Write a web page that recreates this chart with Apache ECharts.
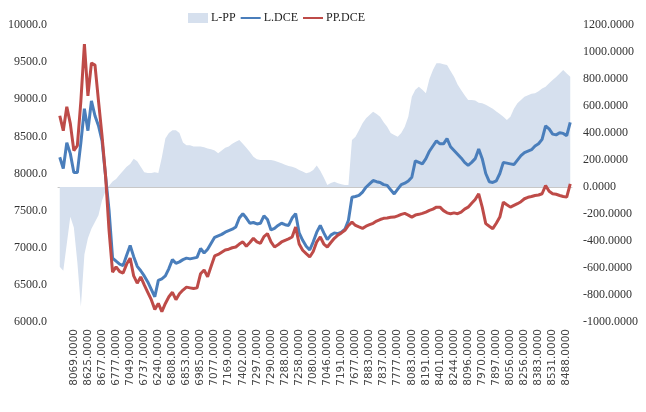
<!DOCTYPE html>
<html>
<head>
<meta charset="utf-8">
<script src="https://cdn.jsdelivr.net/npm/echarts@6/dist/echarts.min.js"></script>
<style>
  html, body { margin: 0; padding: 0; background: #fff; }
  #chart { width: 646px; height: 412px; }
</style>
</head>
<body>
<div id="chart"></div>
<script>
// x-axis labels, one every 4 categories
var tickLabels = [
    '8069.0000', '8625.0000', '8677.0000', '6777.0000', '7049.0000', '6737.0000',
    '6240.0000', '6808.0000', '6853.0000', '6985.0000', '7077.0000', '7169.0000',
    '7402.0000', '7297.0000', '7290.0000', '7288.0000', '7258.0000', '7080.0000',
    '7046.0000', '7191.0000', '7677.0000', '7883.0000', '7837.0000', '7777.0000',
    '8083.0000', '8191.0000', '8401.0000', '8244.0000', '8096.0000', '7970.0000',
    '7897.0000', '8056.0000', '8256.0000', '8383.0000', '8531.0000', '8488.0000'
];

var lDce = [
    8218, 8067, 8415, 8268, 8013, 8013, 8415, 8872, 8577, 8979,
    8778, 8644, 8442, 7973, 7503, 6859, 6819, 6780, 6760, 6900,
    7030, 6880, 6750, 6690, 6620, 6540, 6440, 6340, 6560, 6580,
    6620, 6720, 6840, 6790, 6810, 6840, 6860, 6850, 6860, 6870,
    6990, 6930, 6980, 7060, 7140, 7160, 7180, 7210, 7230, 7250,
    7280, 7400, 7460, 7400, 7330, 7340, 7320, 7330, 7430, 7380,
    7240, 7260, 7300, 7330, 7310, 7300, 7400, 7460, 7200, 7100,
    7020, 6970, 7080, 7210, 7300, 7200, 7110, 7170, 7200, 7190,
    7210, 7250, 7370, 7680, 7690, 7705, 7750, 7815, 7860, 7905,
    7890, 7880, 7850, 7840, 7780, 7725, 7790, 7850, 7870, 7900,
    7950, 8170, 8150, 8130, 8200, 8300, 8370, 8440, 8400, 8400,
    8470, 8360, 8310, 8260, 8210, 8150, 8110, 8150, 8200, 8330,
    8200, 8000, 7890, 7880, 7900, 8000, 8150, 8140, 8130, 8120,
    8180, 8240, 8280, 8300, 8320, 8370, 8400, 8460, 8640, 8600,
    8530, 8520, 8550, 8540, 8510, 8690
];

var ppDce = [
    8778, 8577, 8899, 8671, 8308, 8375, 8979, 9744, 9046, 9489,
    9462, 8979, 8510, 7973, 7235, 6671, 6742, 6680, 6660, 6780,
    6860, 6620, 6523, 6608, 6500, 6400, 6300, 6170, 6250, 6140,
    6250, 6340, 6400, 6300, 6380, 6430, 6470, 6460, 6450, 6460,
    6650, 6700, 6610, 6750, 6890, 6910, 6940, 6970, 6980, 7000,
    7010, 7050, 7080, 7020, 7070, 7127, 7080, 7060, 7150, 7190,
    7080, 7010, 7040, 7078, 7100, 7120, 7145, 7279, 7050, 6966,
    6920, 6876, 6950, 7080, 7145, 7050, 7010, 7070, 7127, 7170,
    7200, 7235, 7300, 7346, 7300, 7280, 7261, 7290, 7310, 7329,
    7360, 7380, 7396, 7400, 7410, 7413, 7430, 7450, 7463, 7440,
    7413, 7440, 7450, 7463, 7480, 7503, 7520, 7547, 7547, 7500,
    7470, 7459, 7470, 7459, 7480, 7520, 7547, 7600, 7650, 7727,
    7547, 7325, 7290, 7257, 7330, 7413, 7614, 7580, 7547, 7570,
    7593, 7620, 7660, 7680, 7690, 7704, 7710, 7727, 7838, 7760,
    7727, 7720, 7704, 7690, 7682, 7861
];

var lpp = [
    -590, -620, -420, -220, -300, -560, -887, -500, -380, -310,
    -260, -210, -100, -30, 10, 40, 60, 90, 120, 150,
    170, 210, 190, 150, 110, 104, 104, 110, 104, 220,
    360, 400, 420, 420, 400, 330, 310, 310, 300, 300,
    300, 295, 285, 280, 270, 250, 270, 290, 300, 320,
    336, 348, 320, 290, 260, 225, 205, 200, 200, 200,
    200, 195, 185, 176, 165, 155, 150, 140, 126, 115,
    102, 110, 126, 160, 120, 70, 15, 30, 39, 27,
    20, 15, 15, 348, 373, 420, 472, 510, 534, 558,
    540, 521, 480, 447, 400, 385, 373, 400, 447, 520,
    669, 720, 743, 720, 694, 800, 867, 917, 917, 910,
    904, 860, 817, 760, 719, 680, 645, 645, 640, 625,
    620, 610, 595, 580, 560, 540, 520, 496, 521, 580,
    620, 645, 669, 680, 690, 694, 710, 730, 743, 768,
    793, 815, 840, 867, 840, 817
];

var categories = lDce.map(function (v, i) { return String(i); });

var chart = echarts.init(document.getElementById('chart'), null, { renderer: 'canvas' });
var serif = 'Liberation Serif';

var option = {
    animation: false,
    backgroundColor: '#fff',
    legend: {
        left: 183,
        top: 7,
        itemWidth: 20,
        itemHeight: 10,
        itemGap: 4,
        textStyle: { fontFamily: serif, fontSize: 12, color: '#222', padding: [0, 0, 0, -2] },
        data: [
            { name: 'L-PP', icon: 'rect', itemStyle: { color: '#d6e0ee' } },
            // hide the marker dot, keep only the line
            { name: 'L.DCE', itemStyle: { opacity: 0 } },
            { name: 'PP.DCE', itemStyle: { opacity: 0 } }
        ]
    },
    grid: { left: 58, right: 74, top: 25, bottom: 90 },
    xAxis: {
        type: 'category',
        data: categories,
        boundaryGap: true,
        axisLine: { lineStyle: { color: '#c8c8c8' } },
        axisTick: { interval: 0, length: 4, lineStyle: { color: '#c8c8c8' } },
        axisLabel: {
            rotate: 90,
            margin: 7,
            interval: function (i) { return i > 0 && i % 4 === 0; },
            formatter: function (v, i) { return tickLabels[i / 4 - 1] || ''; },
            fontFamily: 'DejaVu Sans',
            fontSize: 10.5,
            color: '#444'
        }
    },
    yAxis: [{
        type: 'value',
        min: 6000,
        max: 10000,
        interval: 500,
        axisLine: { show: false },
        axisTick: { show: false },
        splitLine: { show: false },
        axisLabel: {
            margin: 11,
            formatter: function (v) { return v.toFixed(1); },
            fontFamily: serif, fontSize: 12, color: '#333'
        }
    }, {
        type: 'value',
        min: -1000,
        max: 1200,
        interval: 200,
        position: 'right',
        axisLine: { show: false },
        axisTick: { show: false },
        splitLine: { show: false },
        axisLabel: {
            margin: 11,
            formatter: function (v) { return v.toFixed(4); },
            fontFamily: serif, fontSize: 12, color: '#333'
        }
    }],
    series: [{
        name: 'L-PP',
        type: 'line',
        yAxisIndex: 1,
        data: lpp,
        symbol: 'none',
        lineStyle: { width: 0 },
        itemStyle: { color: '#d6e0ee' },
        areaStyle: { color: '#d6e0ee', opacity: 1 },
        z: 1
    }, {
        name: 'L.DCE',
        type: 'line',
        data: lDce,
        symbol: 'none',
        lineStyle: { width: 3, color: '#4a7ebb' },
        itemStyle: { color: '#4a7ebb' },
        z: 2
    }, {
        name: 'PP.DCE',
        type: 'line',
        data: ppDce,
        symbol: 'none',
        lineStyle: { width: 3, color: '#be4b48' },
        itemStyle: { color: '#be4b48' },
        z: 3
    }]
};

chart.setOption(option);
</script>
</body>
</html>
